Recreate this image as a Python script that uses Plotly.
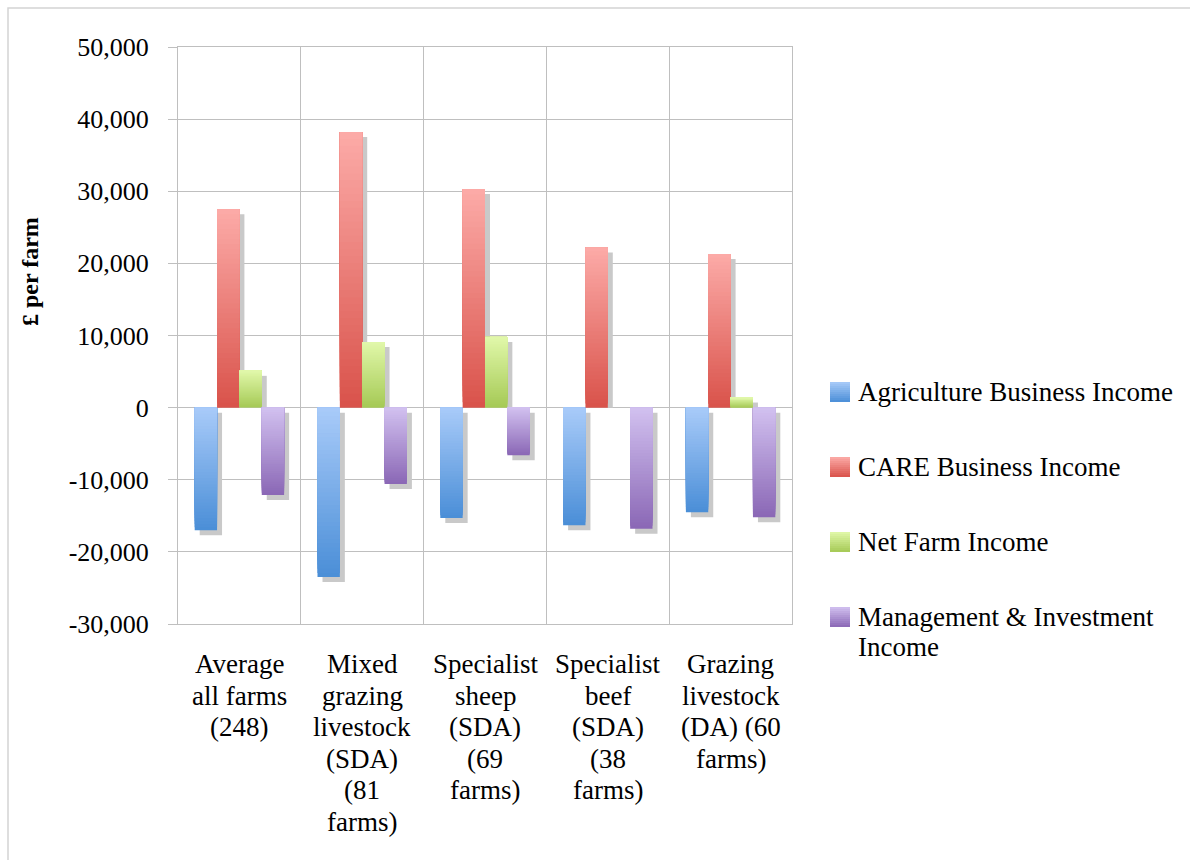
import plotly.graph_objects as go

# ---- data -------------------------------------------------------------
category_labels = [
    "Average\nall farms\n(248)",
    "Mixed\ngrazing\nlivestock\n(SDA)\n(81\nfarms)",
    "Specialist\nsheep\n(SDA)\n(69\nfarms)",
    "Specialist\nbeef\n(SDA)\n(38\nfarms)",
    "Grazing\nlivestock\n(DA) (60\nfarms)",
]
series_names = [
    "Agriculture Business Income",
    "CARE Business Income",
    "Net Farm Income",
    "Management & Investment\nIncome",
]
agri_business = [-17000, -23500, -15300, -16300, -14500]
care_business = [27500, 38200, 30300, 22200, 21300]
net_farm = [5100, 9100, 9800, 0, 1400]
mgmt_invest = [-12100, -10600, -6600, -16800, -15200]
series_values = [agri_business, care_business, net_farm, mgmt_invest]

y_ticks = [-30000, -20000, -10000, 0, 10000, 20000, 30000, 40000, 50000]
y_tick_labels = ["-30,000", "-20,000", "-10,000", "0", "10,000",
                 "20,000", "30,000", "40,000", "50,000"]

# ---- styling ----------------------------------------------------------
gradients = [
    ("#a9cbf9", "#4a8ed7"),
    ("#fcaba8", "#d9524a"),
    ("#e1f8aa", "#a5c955"),
    ("#d2c1f0", "#8a67b5"),
]
SERIF = "'Times New Roman', 'Liberation Serif', 'DejaVu Serif', serif"
GRID = "#bfbfbf"

W, H = 1190, 860
PL, PR, PT, PB = 178, 792, 47, 624          # plot area in pixels
Y_MIN, Y_MAX = -30000, 50000
N_SLICES = 40
BAR_W = 0.182
SHADOW_DX = 5 / (PR - PL) * len(category_labels)
SHADOW_DY = 5 / (PB - PT) * (Y_MAX - Y_MIN)


def px_x(p):
    return (p - PL) / (PR - PL)


def px_y(p):
    return (PB - p) / (PB - PT)


def mix(c1, c2, t):
    a = [int(c1[i:i + 2], 16) for i in (1, 3, 5)]
    b = [int(c2[i:i + 2], 16) for i in (1, 3, 5)]
    return "rgb(%d,%d,%d)" % tuple(round(a[k] + (b[k] - a[k]) * t) for k in range(3))


fig = go.Figure()

# drop shadows, drawn first so the bars sit on top
for k, vals in enumerate(series_values):
    xs, bases, heights = [], [], []
    for cat, v in zip(category_labels, vals):
        if v > 0:
            xs.append(cat); bases.append(0); heights.append(max(v - SHADOW_DY, 0))
        elif v < 0:
            xs.append(cat); bases.append(-SHADOW_DY); heights.append(v)
    fig.add_trace(go.Bar(
        x=xs, y=heights, base=bases,
        offset=-2 * BAR_W + k * BAR_W + SHADOW_DX, width=BAR_W,
        marker=dict(color="#c9c9c9", line=dict(width=0)),
        showlegend=False, hoverinfo="skip",
    ))

# gradient bars: each bar is painted as overlapping pieces, bottom piece
# first, every piece reaching the top of the bar so no seams appear
for k, vals in enumerate(series_values):
    light, dark = gradients[k]
    xs, bases, heights, colors = [], [], [], []
    for cat, v in zip(category_labels, vals):
        if v == 0:
            continue
        top, bottom = max(v, 0), min(v, 0)
        span = top - bottom
        step = span / N_SLICES
        for i in range(N_SLICES):
            b = bottom + step * i
            t = (top - (b + step / 2)) / span
            xs.append(cat)
            bases.append(b)
            heights.append(top - b)
            colors.append(mix(light, dark, t))
    fig.add_trace(go.Bar(
        x=xs, y=heights, base=bases,
        offset=-2 * BAR_W + k * BAR_W, width=BAR_W,
        marker=dict(color=colors, line=dict(width=0)),
        name=series_names[k].replace("\n", " "),
        showlegend=False, hoverinfo="skip",
    ))

annotations = []
shapes = []

# category labels below the plot, one line at a time
for ci, lab in enumerate(category_labels):
    for li, line in enumerate(lab.split("\n")):
        annotations.append(dict(
            x=category_labels[ci], xref="x", y=px_y(664 + 31.5 * li), yref="paper",
            text=line, showarrow=False, xanchor="center", yanchor="middle",
            font=dict(family=SERIF, size=27, color="#000000"),
        ))

# legend
legend_rows = [392, 467, 542, 617]
for k, name in enumerate(series_names):
    yc = legend_rows[k]
    light, dark = gradients[k]
    n = 10
    for i in range(n):
        shapes.append(dict(
            type="rect", xref="paper", yref="paper",
            x0=px_x(830), x1=px_x(850),
            y0=px_y(yc - 10 + 2 * i), y1=px_y(yc - 10 + 2 * (i + 1)),
            fillcolor=mix(light, dark, (i + 0.5) / n), line=dict(width=0),
        ))
    for li, line in enumerate(name.split("\n")):
        annotations.append(dict(
            x=px_x(856), xref="paper", y=px_y(yc + 30 * li), yref="paper",
            text=line, showarrow=False, xanchor="left", yanchor="middle",
            font=dict(family=SERIF, size=27, color="#000000"),
        ))

# y-axis title
annotations.append(dict(
    x=px_x(30), xref="paper", y=px_y(272), yref="paper",
    text="<b>£ per farm</b>", textangle=-90, showarrow=False,
    xanchor="center", yanchor="middle",
    font=dict(family=SERIF, size=24, color="#000000"),
))

# outer frame of the chart
shapes.append(dict(
    type="rect", xref="paper", yref="paper",
    x0=px_x(8), x1=px_x(1250), y0=px_y(900), y1=px_y(8),
    line=dict(color="#d4d4d4", width=1.5), fillcolor="rgba(0,0,0,0)", layer="below",
))

fig.update_layout(
    width=W, height=H,
    margin=dict(l=PL, r=W - PR, t=PT, b=H - PB),
    paper_bgcolor="white", plot_bgcolor="white",
    barmode="overlay",
    showlegend=False,
    font=dict(family=SERIF),
    annotations=annotations,
    shapes=shapes,
    xaxis=dict(
        type="category", categoryorder="array", categoryarray=category_labels,
        range=[-0.5, len(category_labels) - 0.5],
        showticklabels=False, tickson="boundaries", ticks="",
        showgrid=True, gridcolor=GRID, gridwidth=1,
        showline=True, linecolor=GRID, linewidth=1, mirror=True,
        zeroline=False,
    ),
    yaxis=dict(
        range=[Y_MIN, Y_MAX], tickvals=y_ticks, ticktext=y_tick_labels,
        ticks="outside", ticklen=9, tickcolor=GRID,
        showgrid=True, gridcolor=GRID, gridwidth=1,
        zeroline=True, zerolinecolor=GRID, zerolinewidth=1,
        showline=True, linecolor=GRID, linewidth=1, mirror=True,
        tickfont=dict(family=SERIF, size=26, color="#000000"),
        ticklabelstandoff=14,
    ),
)

fig.write_html("out.html")
